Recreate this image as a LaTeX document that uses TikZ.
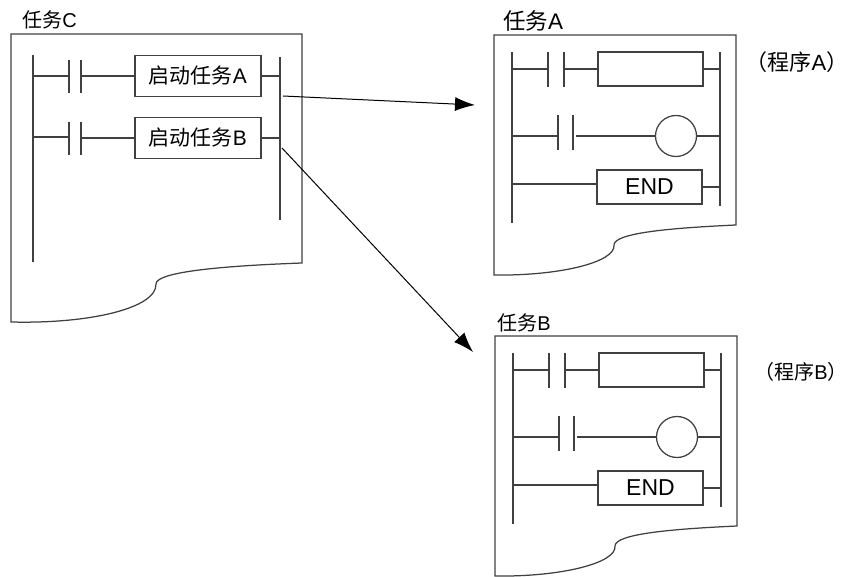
\documentclass[tikz,border=0pt]{standalone}
\usepackage{fontspec}
\setmainfont{Liberation Sans}
\newfontfamily\cjk{Noto Sans CJK SC}
\usetikzlibrary{arrows.meta}

\tikzset{
    ladder/.style={line width=1.25pt,draw=black!75},
    coilbox/.style={draw=black!75,line width=1.25pt,minimum width=105pt,minimum height=34pt,inner sep=0pt,font=\fontsize{23}{23}\selectfont},
    startbox/.style={coilbox,minimum width=126pt,minimum height=41pt,font=\fontsize{21}{21}\selectfont},
    coil/.style={draw=black!75,line width=1.25pt,circle,minimum size=41pt,inner sep=0pt},
    caption/.style={inner sep=0pt},
    jump/.style={line width=1pt,draw=black,-{Latex[length=20pt,width=14pt]}}
}

\begin{document}
\begin{tikzpicture}[x=1pt,y=-1pt]
    \useasboundingbox (0,0) rectangle (849,577);

    % task C
    \draw [ladder] (302,34) -- (11,34) -- (11,322) .. controls (90,324) and (157,308) .. (156,284)
        .. controls (156,272) and (220,266) .. (302,263) -- cycle;
    \node [caption,font=\fontsize{20}{20}\selectfont] (titleC) at (49.5,20) {{\cjk 任务}C};

    \coordinate (railCl) at (33,55);
    \coordinate (railCr) at (280,57);
    \draw [ladder] (railCl) -- (33,262);
    \draw [ladder] (railCr) -- (280,220);

    \node [startbox] (boxA) at (198,76) {{\cjk 启动任务}A};
    \node [startbox] (boxB) at (198,138) {{\cjk 启动任务}B};

    \draw [ladder] (33,76) -- (69,76);
    \draw [ladder] (69,60) -- (69,93);
    \draw [ladder] (81,60) -- (81,93);
    \draw [ladder] (81,76) -- (boxA.west);
    \draw [ladder] (boxA.east) -- (boxA.east -| railCr);

    \draw [ladder] (33,137) -- (69,137);
    \draw [ladder] (69,122) -- (69,155);
    \draw [ladder] (81,122) -- (81,155);
    \draw [ladder] (81,138) -- (boxB.west);
    \draw [ladder] (boxB.east) -- (boxB.east -| railCr);

    % task A and B are the same program
    \foreach \t/\dx/\dy/\tx/\ty/\tf/\px/\py/\pf in {A/0/0/533/21/22.5/797/62/22,B/1/301/523/22/20/800/71/20} {
        \begin{scope}[shift={(\dx,\dy)}]
            \draw [ladder] (736,35) -- (494,35) -- (494,275) .. controls (560,276) and (616,262) .. (614,245)
                .. controls (614,233) and (670,228) .. (736,225) -- cycle;
            \node [caption,font=\fontsize{\tf}{\tf}\selectfont] (title\t) at (\tx,\ty) {{\cjk 任务}\t};
            \node [caption,font=\fontsize{\pf}{\pf}\selectfont] (prog\t) at (\px,\py) {{\cjk （程序}\t{\cjk ）}};

            \coordinate (rail\t l) at (512,52);
            \coordinate (rail\t r) at (720,52);
            \draw [ladder] (rail\t l) -- (512,223);
            \draw [ladder] (rail\t r) -- (720,206);

            % first rung
            \node [coilbox] (box\t) at (650.5,69) {};
            \draw [ladder] (512,69) -- (548,69);
            \draw [ladder] (548,52) -- (548,87);
            \draw [ladder] (564,52) -- (564,87);
            \draw [ladder] (564,69) -- (box\t.west);
            \draw [ladder] (box\t.east) -- (box\t.east -| rail\t r);

            % second rung
            \node [coil] (coil\t) at (676,136) {};
            \draw [ladder] (512,136) -- (558,136);
            \draw [ladder] (558,115) -- (558,150);
            \draw [ladder] (573,115) -- (573,150);
            \draw [ladder] (576,136) -- (coil\t.west);
            \draw [ladder] (coil\t.east) -- (coil\t.east -| rail\t r);

            % third rung
            \node [coilbox] (end\t) at (649.5,187) {END};
            \draw [ladder] (512,184) -- (end\t.west |- 512,184);
            \draw [ladder] (end\t.east) -- (end\t.east -| rail\t r);
        \end{scope}
    }

    \coordinate (fromA) at (283,96);
    \coordinate (fromB) at (282,148);
    \coordinate (toA) at (475,105);
    \coordinate (toB) at (473,352);
    \draw [jump] (fromA) -- (toA);
    \draw [jump] (fromB) -- (toB);
\end{tikzpicture}
\end{document}
